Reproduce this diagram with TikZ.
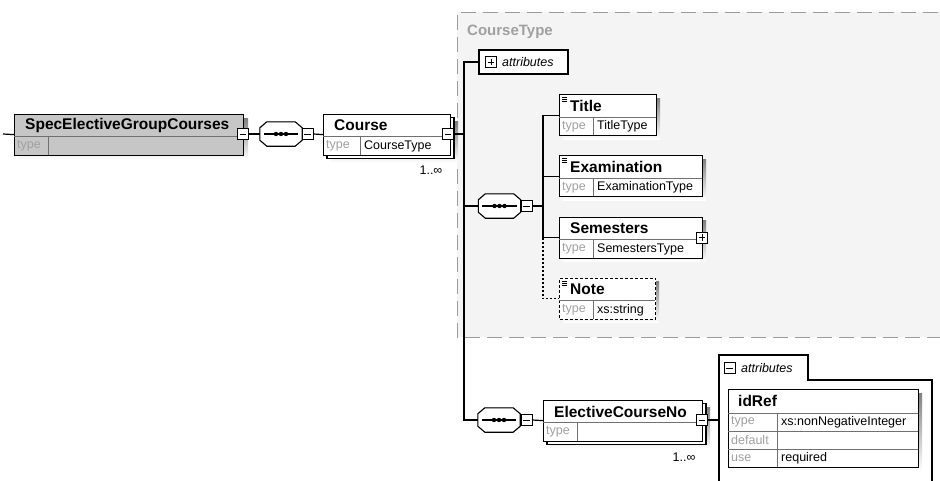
\documentclass[tikz,border=0pt]{standalone}
\usepackage{fontspec}
\setmainfont{Liberation Sans}
\usetikzlibrary{calc}

\definecolor{shade}{HTML}{B6B6B6}
\definecolor{lbl}{HTML}{A0A0A0}
\definecolor{region}{HTML}{F4F4F4}
\definecolor{regionline}{HTML}{9C9C9C}
\definecolor{rootfill}{HTML}{C6C6C6}
\definecolor{sep}{HTML}{707070}

\tikzset{
  conn/.style={draw=black, line width=1.2pt},
  optconn/.style={draw=black, line width=1.2pt, dash pattern=on 2pt off 2pt},
  boxframe/.style={draw=black, line width=1.2pt, fill=white, inner sep=0pt, rectangle},
  sepline/.style={draw=sep, line width=0.8pt},
  titletext/.style={font=\fontsize{15.5}{18}\selectfont\bfseries, inner sep=0pt, anchor=west},
  keytext/.style={font=\fontsize{12.5}{15}\selectfont, text=lbl, inner sep=0pt, anchor=west},
  valtext/.style={font=\fontsize{12.5}{15}\selectfont, inner sep=0pt, anchor=west},
  attrtext/.style={font=\fontsize{12.5}{15}\selectfont\itshape, inner sep=0pt, anchor=west},
  occtext/.style={font=\fontsize{12.5}{14}\selectfont, inner sep=0pt},
  regiontext/.style={font=\fontsize{15}{18}\selectfont\bfseries, text=lbl, inner sep=0pt, anchor=west},
  togglebox/.style={draw=black, fill=white, line width=0.9pt, minimum size=11pt, inner sep=0pt, rectangle},
  seqbox/.style={minimum width=42pt, minimum height=24pt, inner sep=0pt, rectangle},
}

% element box: name, left x, top y, width, divider offset, title, type value, frame options
\newcommand{\elembox}[8]{%
  \node[boxframe,#8,minimum width=#4pt,minimum height=41pt,anchor=north west] (#1) at (#2,#3) {};
  \draw[sepline] (#2,#3+23) -- (#2+#4,#3+23);
  \draw[sepline] (#2+#5,#3+23) -- (#2+#5,#3+41);
  \node[titletext] (#1-name) at (#2+11,#3+12) {#6};
  \node[keytext] (#1-key) at (#2+3,#3+32.5) {type};
  \node[valtext] (#1-type) at (#2+#5+4,#3+32.5) {#7};
}
% drop shadow: left x, top y, width, height, offset
\newcommand{\dropshade}[5]{%
  \fill[shade] (#1+#5,#2+#5) rectangle (#1+#3+#5,#2+#4+#5);
}
% second frame behind a repeatable element
\newcommand{\stackframe}[3]{%
  \fill[shade] (#1+8,#2+8) rectangle (#1+#3+8,#2+41+8);
  \draw[black, line width=1.2pt, fill=white] (#1+4,#2+4) rectangle (#1+#3+4,#2+41+4);
}
% simple-content marker
\newcommand{\simplemark}[2]{%
  \draw[black, line width=0.7pt] (#1+3,#2+3.5) -- (#1+8,#2+3.5)
    (#1+3,#2+5.5) -- (#1+8,#2+5.5) (#1+3,#2+7.5) -- (#1+8,#2+7.5);
}
% collapse / expand toggles
\newcommand{\minustoggle}[3]{%
  \node[togglebox] (#1) at (#2,#3) {};
  \draw[black, line width=0.9pt] ([xshift=2.5pt]#1.west) -- ([xshift=-2.5pt]#1.east);
}
\newcommand{\plustoggle}[3]{%
  \node[togglebox] (#1) at (#2,#3) {};
  \draw[black, line width=0.9pt] ([xshift=2.5pt]#1.west) -- ([xshift=-2.5pt]#1.east)
    ([yshift=-2.5pt]#1.north) -- ([yshift=2.5pt]#1.south);
}
% sequence compositor
\newcommand{\seqoct}[3]{%
  \node[seqbox] (#1) at (#2,#3) {};
  \fill[shade, shift={(3,3)}] ([yshift=6pt]#1.south west) -- ([yshift=-6pt]#1.north west)
    -- ([xshift=7pt]#1.north west) -- ([xshift=-7pt]#1.north east)
    -- ([yshift=-6pt]#1.north east) -- ([yshift=6pt]#1.south east)
    -- ([xshift=-7pt]#1.south east) -- ([xshift=7pt]#1.south west) -- cycle;
  \draw[black, line width=1.1pt, fill=white] ([yshift=6pt]#1.south west) -- ([yshift=-6pt]#1.north west)
    -- ([xshift=7pt]#1.north west) -- ([xshift=-7pt]#1.north east)
    -- ([yshift=-6pt]#1.north east) -- ([yshift=6pt]#1.south east)
    -- ([xshift=-7pt]#1.south east) -- ([xshift=7pt]#1.south west) -- cycle;
  \draw[black, line width=1.1pt] ([xshift=4pt]#1.west) -- ([xshift=-4pt]#1.east);
  \fill[black] ([xshift=-5pt]#1.center) circle (2.2pt) (#1.center) circle (2.2pt)
    ([xshift=5pt]#1.center) circle (2.2pt);
}
% occurrence marker under a repeatable element
\newcommand{\occmark}[2]{%
  \draw[black, line width=0.8pt, fill=white] (#1-5,#2) -- (#1,#2+5) -- (#1+5,#2);
}

\begin{document}
\begin{tikzpicture}[x=1pt,y=-1pt]
\useasboundingbox (0,0) rectangle (940,480);
\fill[white] (0,0) rectangle (940,480);

% CourseType content region
\fill[region] (457,12) rectangle (960,337);
\draw[regionline, line width=1pt, dash pattern=on 15pt off 7pt] (960,12) -- (457,12) -- (457,337) -- (960,337);
\node[regiontext] (ctype) at (467,32) {CourseType};

% root element
\coordinate (entry) at (3,134);
\dropshade{14}{113.5}{229}{41}{5}
\elembox{root}{14}{113.5}{229}{34}{SpecElectiveGroupCourses}{}{fill=rootfill}
\minustoggle{root-m}{243}{134}

% first sequence
\seqoct{seqA}{281}{134}
\minustoggle{seqA-m}{307.5}{134}

% Course (repeatable)
\occmark{437}{157.5}
\stackframe{323}{113.5}{127}
\elembox{course}{323}{113.5}{127}{37}{Course}{CourseType}{}
\minustoggle{course-m}{448}{134}
\node[occtext] (course-occ) at (431,170) {1..∞};

% attributes of CourseType
\node[boxframe, minimum width=89pt, minimum height=24pt] (attrs) at (523.5,62) {};
\plustoggle{attrs-p}{491}{62}
\node[attrtext] (attrs-t) at (502,62) {attributes};

% second sequence
\seqoct{seqB}{499.5}{206}
\minustoggle{seqB-m}{526.5}{206}

% children of the sequence
\dropshade{559}{94}{97}{41}{4}
\elembox{title}{559}{94}{97}{34}{Title}{TitleType}{}
\simplemark{559}{94}

\dropshade{559}{155}{143}{41}{4}
\elembox{exam}{559}{155}{143}{34}{Examination}{ExaminationType}{}
\simplemark{559}{155}

\dropshade{559}{216.5}{143}{41}{4}
\elembox{sem}{559}{216.5}{143}{34}{Semesters}{SemestersType}{}
\plustoggle{sem-p}{702}{237.5}

\dropshade{559}{277.5}{96}{41}{4}
\elembox{note}{559}{277.5}{96}{34}{Note}{xs:string}{dash pattern=on 3pt off 2pt}
\simplemark{559}{277.5}

% third sequence
\seqoct{seqC}{499}{420}
\minustoggle{seqC-m}{526.5}{420}

% ElectiveCourseNo (repeatable)
\occmark{690}{443.5}
\stackframe{543}{399.5}{159}
\elembox{ecn}{543}{399.5}{159}{34}{ElectiveCourseNo}{}{}
\minustoggle{ecn-m}{702}{420}
\node[occtext] (ecn-occ) at (684,457) {1..∞};

% attributes group of ElectiveCourseNo
\draw[black, line width=1.2pt, fill=white] (719,490) -- (719,355) -- (808,355) -- (808,380) -- (932,380) -- (932,490);
\coordinate (attgroup) at (719,420);
\minustoggle{att-m}{729.5}{368}
\node[attrtext] (att-t) at (741,368) {attributes};

% idRef attribute table
\dropshade{728}{389}{190}{78}{4}
\node[boxframe, minimum width=190pt, minimum height=78pt, anchor=north west] (idref) at (728,389) {};
\draw[sepline] (728,413) -- (918,413) (728,431) -- (918,431) (728,449) -- (918,449);
\draw[sepline] (777,413) -- (777,467);
\node[titletext] (idref-name) at (738,401) {idRef};
\node[keytext] (idref-k1) at (731,422) {type};
\node[keytext] (idref-k2) at (731,440) {default};
\node[keytext] (idref-k3) at (731,458) {use};
\node[valtext] (idref-v1) at (781,422) {xs:nonNegativeInteger};
\node[valtext] (idref-v3) at (781,458) {required};

% connectors
\coordinate (trunk) at (464,134);
\coordinate (fork) at (543,206);
\coordinate (forkopt) at (543,237.5);
\draw[conn] (entry) -- (root.west);
\draw[conn] (root-m.east) -- (seqA.west);
\draw[conn] (seqA-m.east) -- (course.west);
\draw[conn] (course-m.east) -- (trunk);
\draw[conn] (attrs.west) -| (trunk) |- (seqC.west);
\draw[conn] (trunk) |- (seqB.west);
\draw[conn] (seqB-m.east) -- (fork);
\draw[conn] (fork) |- (title.west);
\draw[conn] (fork) |- (exam.west);
\draw[conn] (fork) |- (sem.west);
\draw[optconn] (forkopt) |- (note.west);
\draw[conn] (seqC-m.east) -- (ecn.west);
\draw[conn] (ecn-m.east) -- (attgroup);
\end{tikzpicture}
\end{document}
